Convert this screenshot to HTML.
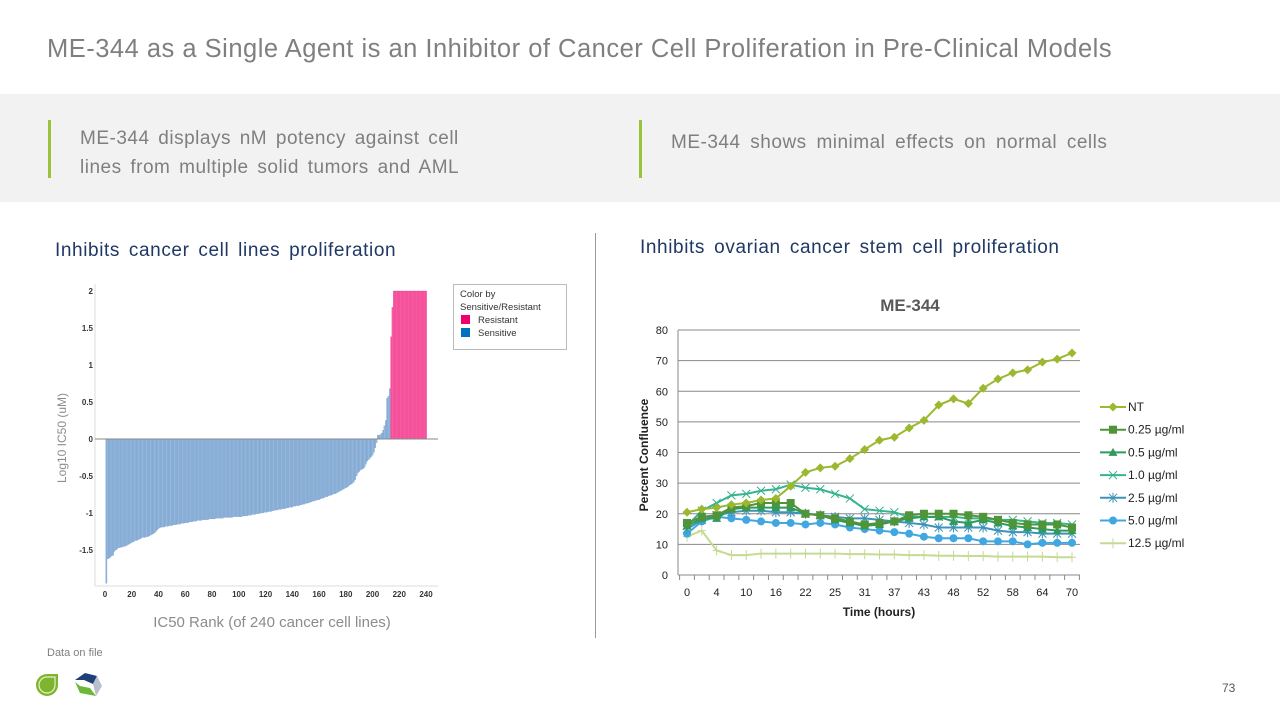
<!DOCTYPE html>
<html><head><meta charset="utf-8"><style>
body{margin:0;width:1280px;height:720px;overflow:hidden;background:#fff;font-family:"Liberation Sans",sans-serif;position:relative}
.a{position:absolute}
</style></head><body>
<div class="a" style="left:47px;top:35px;font-size:25.5px;letter-spacing:0.5px;color:#7f7f7f;white-space:nowrap">ME-344 as a Single Agent is an Inhibitor of Cancer Cell Proliferation in Pre-Clinical Models</div>
<div class="a" style="left:0;top:94px;width:1280px;height:108px;background:#f2f2f2"></div>
<div class="a" style="left:48px;top:120px;width:3px;height:58px;background:#9ac33c"></div>
<div class="a" style="left:80px;top:124px;font-size:19px;line-height:29px;letter-spacing:0.5px;word-spacing:3px;color:#7f7f7f;white-space:nowrap">ME-344 displays nM potency against cell<br>lines from multiple  solid tumors and AML</div>
<div class="a" style="left:639px;top:120px;width:3px;height:58px;background:#9ac33c"></div>
<div class="a" style="left:671px;top:132px;font-size:19px;letter-spacing:0.5px;word-spacing:4px;color:#7f7f7f;white-space:nowrap">ME-344 shows minimal effects on normal cells</div>
<div class="a" style="left:55px;top:240px;font-size:19px;letter-spacing:0.6px;word-spacing:3px;color:#1f3864;white-space:nowrap">Inhibits cancer cell lines proliferation</div>
<div class="a" style="left:640px;top:237px;font-size:19px;letter-spacing:0.6px;word-spacing:3.3px;color:#1f3864;white-space:nowrap">Inhibits ovarian cancer stem cell proliferation</div>
<div class="a" style="left:595px;top:233px;width:1px;height:405px;background:#999"></div>
<div class="a" style="left:47px;top:647px;font-size:11px;color:#7f7f7f">Data on file</div>
<div class="a" style="left:1222px;top:681px;font-size:12px;color:#555">73</div>
<svg class="a" style="left:30px;top:668px" width="80" height="40">
<path d="M6 17 a11 11 0 1 0 22 0 V6 H17 a11 11 0 0 0 -11 11z" fill="#7fb52e"/>
<path d="M9 17 a8 8 0 1 0 16 0 V9 H17 a8 8 0 0 0 -8 8z" fill="none" stroke="#e4f0c8" stroke-width="1.2"/>
<path d="M45 12 L55 5 L67 8 L63 16 L54 12 Z" fill="#1f3f7a"/>
<path d="M67 8 L72 18 L66 28 L63 16Z" fill="#b8c0cc"/>
<path d="M45 14 L50 25 L66 28 L60 20 L50 18Z" fill="#6cb83a"/>
</svg>
<svg id="lc" class="a" style="left:0;top:0" width="600" height="640"></svg>
<svg id="rc" class="a" style="top:0;left:600px" width="680" height="640"></svg>
<script>
const NS="http://www.w3.org/2000/svg";
function mk(p,t,a){const e=document.createElementNS(NS,t);for(const k in a)e.setAttribute(k,a[k]);p.appendChild(e);return e;}
// ---------- left chart data ----------
const ic50Values=[-1.95,-1.62,-1.61,-1.60,-1.58,-1.57,-1.52,-1.50,-1.49,-1.47,
-1.47,-1.46,-1.46,-1.45,-1.45,-1.44,-1.43,-1.42,-1.41,-1.40,
-1.39,-1.38,-1.37,-1.37,-1.36,-1.35,-1.34,-1.33,-1.33,-1.33,
-1.32,-1.32,-1.31,-1.30,-1.29,-1.28,-1.27,-1.25,-1.23,-1.21,
-1.20,-1.19,-1.19,-1.19,-1.18,-1.18,-1.18,-1.17,-1.17,-1.17,
-1.16,-1.16,-1.16,-1.15,-1.15,-1.15,-1.14,-1.14,-1.14,-1.13,
-1.13,-1.13,-1.12,-1.12,-1.12,-1.11,-1.11,-1.11,-1.10,-1.10,
-1.10,-1.10,-1.09,-1.09,-1.09,-1.09,-1.09,-1.08,-1.08,-1.08,
-1.08,-1.08,-1.07,-1.07,-1.07,-1.07,-1.07,-1.07,-1.06,-1.06,
-1.06,-1.06,-1.06,-1.06,-1.06,-1.05,-1.05,-1.05,-1.05,-1.05,
-1.05,-1.05,-1.04,-1.04,-1.04,-1.04,-1.03,-1.03,-1.03,-1.02,
-1.02,-1.02,-1.01,-1.01,-1.01,-1.00,-1.00,-1.00,-0.99,-0.99,
-0.99,-0.98,-0.98,-0.98,-0.97,-0.97,-0.96,-0.96,-0.96,-0.95,
-0.95,-0.95,-0.94,-0.94,-0.94,-0.93,-0.93,-0.92,-0.92,-0.92,
-0.91,-0.91,-0.90,-0.90,-0.90,-0.89,-0.89,-0.88,-0.88,-0.87,
-0.87,-0.86,-0.86,-0.85,-0.84,-0.84,-0.83,-0.83,-0.82,-0.82,
-0.81,-0.80,-0.80,-0.79,-0.78,-0.78,-0.77,-0.76,-0.76,-0.75,
-0.74,-0.74,-0.73,-0.72,-0.71,-0.70,-0.69,-0.68,-0.67,-0.66,
-0.65,-0.64,-0.62,-0.61,-0.60,-0.58,-0.55,-0.50,-0.46,-0.44,
-0.42,-0.41,-0.40,-0.38,-0.34,-0.30,-0.28,-0.26,-0.24,-0.22,
-0.18,-0.12,-0.05,0.05,0.05,0.06,0.08,0.12,0.18,0.25,
0.55,0.58,0.68,1.38,1.78,2,2,2,2,2,
2,2,2,2,2,2,2,2,2,2,2,2,2,2,2,2,2,2,2,2];
const resistantFrom=214;
const ic50YTicks=[2,1.5,1,0.5,0,-0.5,-1,-1.5];
const ic50YLabels=["2","1.5","1","0.5","0","-0.5","-1","-1.5"];
const ic50XTicks=[0,20,40,60,80,100,120,140,160,180,200,220,240];
const L=document.getElementById('lc');
const lx=r=>105+r*(426-105)/240, ly=v=>439-v*74;
mk(L,'line',{x1:95,y1:284,x2:95,y2:586,stroke:'#ddd'});
mk(L,'line',{x1:95,y1:586,x2:438,y2:586,stroke:'#ddd'});
ic50Values.forEach((v,i)=>{const r=i+1,x=lx(r-0.5),y=Math.min(ly(v),ly(0)),h=Math.abs(ly(v)-ly(0));
 const b=mk(L,'rect',{x:x,y:y,width:1.34,height:Math.max(h,0.5),fill:r>=resistantFrom?'#ff5aa5':'#93b7dd',stroke:r>=resistantFrom?'#d8387f':'#6d95c2','stroke-width':0.25});
 
 });
mk(L,'line',{x1:95,y1:ly(0),x2:438,y2:ly(0),stroke:'#888'});
ic50YTicks.forEach((v,i)=>{const t=mk(L,'text',{x:93,y:ly(v)+3,'text-anchor':'end','font-size':8,'font-weight':'bold',fill:'#333'});t.textContent=ic50YLabels[i];
 
 });
ic50XTicks.forEach(v=>{const t=mk(L,'text',{x:lx(v),y:597,'text-anchor':'middle','font-size':8,'font-weight':'bold',fill:'#333'});t.textContent=v;
 
 });
let t=mk(L,'text',{x:272,y:627,'text-anchor':'middle','font-size':15,fill:'#8c8c8c'});t.textContent='IC50 Rank (of 240 cancer cell lines)';

t=mk(L,'text',{x:66,y:438,'text-anchor':'middle','font-size':12,fill:'#8c8c8c',transform:'rotate(-90 66 438)'});t.textContent='Log10 IC50  (uM)';

const lg=mk(L,'g',{});
mk(lg,'rect',{x:453.5,y:284.5,width:113,height:65,fill:'#fff',stroke:'#bbb'});
[['Color by',297],['Sensitive/Resistant',310]].forEach(a=>{const q=mk(lg,'text',{x:460,y:a[1],'font-size':9.5,fill:'#333'});q.textContent=a[0];});
[['Resistant','#f0006a',323],['Sensitive','#0070c0',336]].forEach(a=>{mk(lg,'rect',{x:461,y:a[2]-8,width:9,height:9,fill:a[1]});const q=mk(lg,'text',{x:478,y:a[2],'font-size':9.5,fill:'#333'});q.textContent=a[0];});
// ---------- right chart data ----------
const timeLabels=["0","4","10","16","22","25","31","37","43","48","52","58","64","70"];
const seriesNames=["NT","0.25 µg/ml","0.5 µg/ml","1.0 µg/ml","2.5 µg/ml","5.0 µg/ml","12.5 µg/ml"];
const ntValues=[20.5,21.5,22,23,23.5,24.5,25,29,33.5,35,35.5,38,41,44,45,48,50.5,55.5,57.5,56,61,64,66,67,69.5,70.5,72.5];
const d025Values=[17,19,19.5,22,22.5,23.5,23.5,23.5,20,19.5,18.5,17.5,16.5,17,17.5,19.5,20,20,20,19.5,19,18,17,16.5,16.5,16.5,15.5];
const d05Values=[16,18.5,18.5,21.5,22,22,22,22,20,19.5,18,17,16,16.5,17.5,18.5,19,19,17.5,17,18,17,16,15.5,15,14.5,14.5];
const d10Values=[16,21,23.5,26,26.5,27.5,28,29.5,28.5,28,26.5,25,21.5,21,20.5,19,19,19,19,18.5,18.5,18,18,17.5,17,17,16.5];
const d25Values=[15,18,19.5,20.5,21,21,20.5,20.5,20,19.5,19,18.5,18.5,18,17.5,17,16.5,15.5,15.5,15.5,15.5,14.5,14,14,13.5,13.5,13.5];
const d50Values=[13.5,17.5,19,18.5,18,17.5,17,17,16.5,17,16.5,15.5,15,14.5,14,13.5,12.5,12,12,12,11,11,11,10,10.5,10.5,10.5];
const d125Values=[12.5,14.5,8,6.5,6.5,7,7,7,7,7,7,6.8,6.8,6.7,6.7,6.5,6.5,6.3,6.3,6.2,6.2,6,6,6,6,5.8,5.8];
const yTicksR=[0,10,20,30,40,50,60,70,80];
const R=document.getElementById('rc');
const N=ntValues.length;
const rx=i=>87+i*385/(N-1), ry=v=>575-v*245/80;
yTicksR.forEach(v=>{mk(R,'line',{x1:78,y1:ry(v),x2:480,y2:ry(v),stroke:'#888','stroke-width':1});
 const q=mk(R,'text',{x:68,y:ry(v)+4,'text-anchor':'end','font-size':11,fill:'#222'});q.textContent=v;
 });
mk(R,'line',{x1:78,y1:ry(80),x2:78,y2:ry(0),stroke:'#888'});
for(let i=0;i<=N;i++){const x=rx(i-0.5);mk(R,'line',{x1:x,y1:575,x2:x,y2:580,stroke:'#888'});}
timeLabels.forEach((l,j)=>{const q=mk(R,'text',{x:rx(j*2),y:596,'text-anchor':'middle','font-size':11,fill:'#222'});q.textContent=l;
 });
t=mk(R,'text',{x:279,y:616,'text-anchor':'middle','font-size':12,'font-weight':'bold',fill:'#222'});t.textContent='Time (hours)';

t=mk(R,'text',{x:48,y:455,'text-anchor':'middle','font-size':12,'font-weight':'bold',fill:'#222',transform:'rotate(-90 48 455)'});t.textContent='Percent Confluence';

t=mk(R,'text',{x:310,y:311,'text-anchor':'middle','font-size':17,'font-weight':'bold',fill:'#595959'});t.textContent='ME-344';

const seriesData=[ntValues,d025Values,d05Values,d10Values,d25Values,d50Values,d125Values];
const colors=['#9bb82e','#4f9438','#2f9a5c','#36b38f','#3d93b8','#41a7e0','#c5da92'];
const markers=['diamond','square','triangle','x','star','circle','plus'];
function marker(g,type,x,y,c){
 if(type=='diamond')mk(g,'path',{d:`M${x} ${y-4.5}L${x+4.5} ${y}L${x} ${y+4.5}L${x-4.5} ${y}Z`,fill:c});
 else if(type=='square')mk(g,'rect',{x:x-4,y:y-4,width:8,height:8,fill:c});
 else if(type=='triangle')mk(g,'path',{d:`M${x} ${y-4.5}L${x+4.5} ${y+3.5}L${x-4.5} ${y+3.5}Z`,fill:c});
 else if(type=='circle')mk(g,'circle',{cx:x,cy:y,r:4,fill:c});
 else if(type=='x')mk(g,'path',{d:`M${x-4} ${y-4}L${x+4} ${y+4}M${x-4} ${y+4}L${x+4} ${y-4}`,stroke:c,'stroke-width':1});
 else if(type=='star')mk(g,'path',{d:`M${x-4} ${y-4}L${x+4} ${y+4}M${x-4} ${y+4}L${x+4} ${y-4}M${x} ${y-5}L${x} ${y+5}`,stroke:c,'stroke-width':1});
 else mk(g,'path',{d:`M${x-4} ${y}L${x+4} ${y}M${x} ${y-5}L${x} ${y+5}`,stroke:c,'stroke-width':1});
}
for(let s=seriesData.length-1;s>=0;s--){const g=mk(R,'g',{});
 
 
 const d=seriesData[s].map((v,i)=>(i?'L':'M')+rx(i)+' '+ry(v)).join('');
 mk(g,'path',{d:d,fill:'none',stroke:colors[s],'stroke-width':2});
 seriesData[s].forEach((v,i)=>marker(g,markers[s],rx(i),ry(v),colors[s]));}
seriesNames.forEach((n,s)=>{const y=407+s*22.7;const g=mk(R,'g',{});
 
 
 mk(g,'line',{x1:500,y1:y,x2:526,y2:y,stroke:colors[s],'stroke-width':2});marker(g,markers[s],513,y,colors[s]);
 const q=mk(g,'text',{x:528,y:y+4,'font-size':12,fill:'#222'});q.textContent=n;});
</script>
</body></html>
